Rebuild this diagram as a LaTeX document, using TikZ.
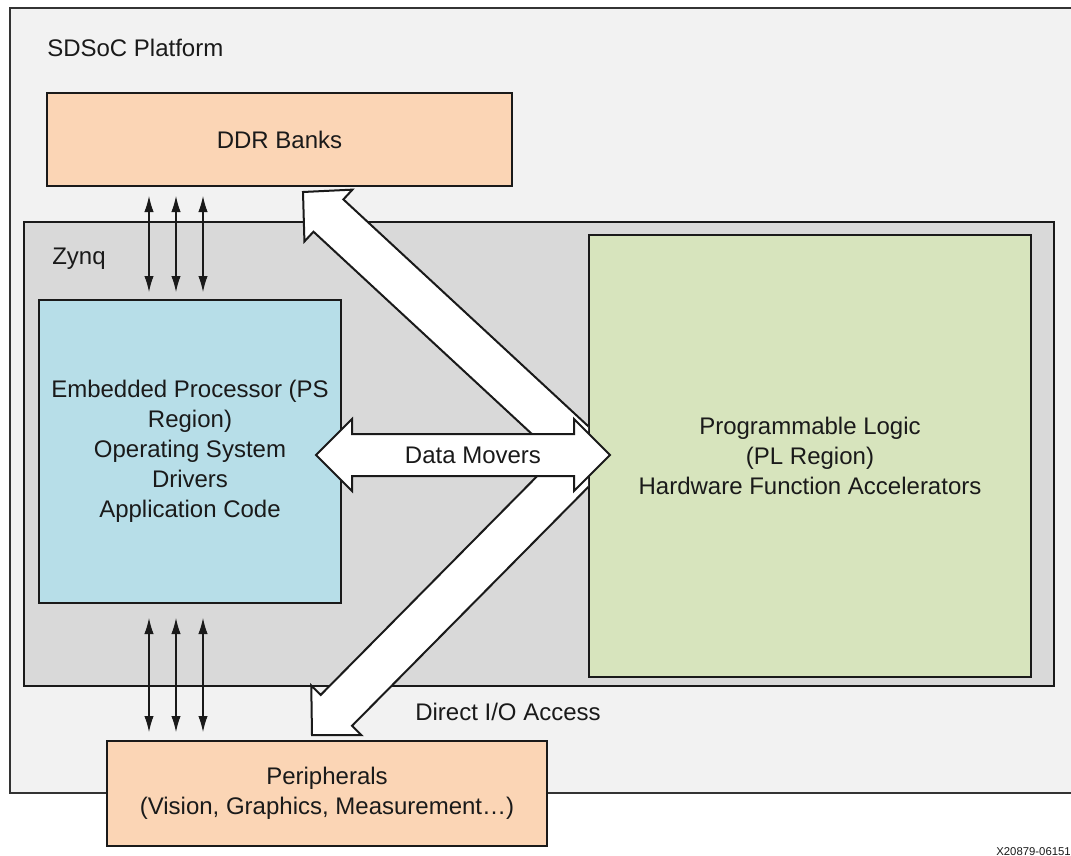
\documentclass[tikz,border=0pt]{standalone}
\usepackage{fontspec}
\setmainfont{Liberation Sans}
\usepackage{tikz}
\usetikzlibrary{arrows.meta,calc,positioning}
\definecolor{platgray}{HTML}{F2F2F2}
\definecolor{zynqgray}{HTML}{D9D9D9}
\definecolor{peach}{HTML}{FBD5B5}
\definecolor{psblue}{HTML}{B7DEE8}
\definecolor{plgreen}{HTML}{D7E4BD}
\definecolor{inkcol}{HTML}{1A1A1A}
\newcommand{\boxfont}{\fontsize{18}{22.5}\selectfont}
\tikzset{
	block/.style = {draw=inkcol, line width=1.5pt, rectangle, align=center, font=\boxfont, text=inkcol},
	txt/.style = {font=\boxfont, text=inkcol, inner sep=0pt},
	bus/.style = {{Latex[length=12pt,width=7pt]}-{Latex[length=12pt,width=7pt]}, line width=0.8pt, draw=inkcol},
	fat/.style = {draw=inkcol, fill=white, line width=1.5pt, line join=miter}
}
% wide arrow, tail #1, tip #2
\newcommand{\fatarrow}[2]{%
	\coordinate (fa-b) at ($(#2)!26pt!(#1)$);
	\draw[fat] ($(#1)!16.5pt!90:(#2)$) -- ($(fa-b)!16.5pt!90:(#2)$) -- ($(fa-b)!26.5pt!90:(#2)$) -- (#2)
		-- ($(fa-b)!26.5pt!-90:(#2)$) -- ($(fa-b)!16.5pt!-90:(#2)$) -- ($(#1)!16.5pt!-90:(#2)$) -- cycle;
}
% wide arrow with two heads
\newcommand{\dblarrow}[2]{%
	\coordinate (da-a) at ($(#1)!27pt!(#2)$);
	\coordinate (da-b) at ($(#2)!27pt!(#1)$);
	\draw[fat] (#1) -- ($(da-a)!27pt!90:(#2)$) -- ($(da-a)!15.75pt!90:(#2)$) -- ($(da-b)!15.75pt!90:(#2)$)
		-- ($(da-b)!27pt!90:(#2)$) -- (#2) -- ($(da-b)!27pt!-90:(#2)$) -- ($(da-b)!15.75pt!-90:(#2)$)
		-- ($(da-a)!15.75pt!-90:(#2)$) -- ($(da-a)!27pt!-90:(#2)$) -- cycle;
}

\begin{document}
\begin{tikzpicture}[x=0.75pt, y=-0.75pt]
	\clip (0,0) rectangle (1071,856);
	\fill[white] (0,0) rectangle (1071,856);

	\node [block, draw=black!80, line width=2pt, fill=platgray, minimum width=802.5pt, minimum height=588.75pt] (platform) at (545,400.5) {};
	\node [txt, anchor=base west] (platname) at (47,57) {SDSoC Platform};

	\node [block, fill=peach, minimum width=348.75pt, minimum height=69.75pt] (ddr) at (279.5,139.5) {DDR Banks};

	\node [block, fill=zynqgray, minimum width=772.5pt, minimum height=348pt] (zynq) at (539,454) {};
	\node [txt, anchor=base west] (zynqname) at (52,264) {Zynq};

	\node [block, fill=psblue, minimum width=226.5pt, minimum height=227.25pt] (ps) at (190,451.5) {Embedded Processor (PS\\Region)\\Operating System\\Drivers\\Application Code};
	\node [block, fill=plgreen, minimum width=331.5pt, minimum height=331.5pt] (pl) at (810,456) {Programmable Logic\\(PL Region)\\Hardware Function Accelerators};

	\node [block, fill=peach, minimum width=330pt, minimum height=78.75pt] (per) at (327,793.5) {Peripherals\\(Vision, Graphics, Measurement…)};
	\node [txt] (dio) at (508,712) {Direct I/O Access};

	\foreach \dx in {111,138,165}
	{
		\draw [bus, shorten <=5.25pt, shorten >=6.75pt] ($(ps.north west)+(\dx,0)$) -- ($(ddr.south west)+(\dx-8,0)$);
		\draw [bus, shorten <=10.5pt, shorten >=6pt] ($(ps.south west)+(\dx,0)$) -- ($(per.north west)+(\dx-68,0)$);
	}

	\coordinate (ddrtip) at (303,192);
	\coordinate (pertip) at (312,735);
	\begin{scope}
		\clip (0,0) rectangle (pl.west |- per.south);
		\fatarrow{pl.west}{ddrtip}
		\fatarrow{pl.west}{pertip}
	\end{scope}

	\coordinate (dmL) at (316,455);
	\coordinate (dmR) at (610,455);
	\dblarrow{dmL}{dmR}
	\node [txt] (movers) at (473,455) {Data Movers};

	\node [anchor=base east, font=\fontsize{8.5}{10}\selectfont, text=inkcol, inner sep=0pt] (figid) at (1071,855) {X20879-06151};
\end{tikzpicture}
\end{document}
